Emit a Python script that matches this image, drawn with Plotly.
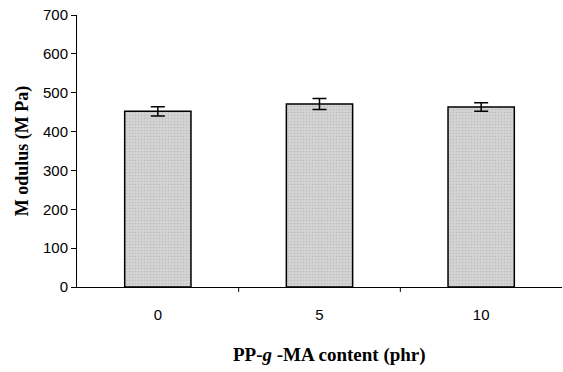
import plotly.graph_objects as go

categories = ["0", "5", "10"]
modulus = [452, 471, 463]
errors = [12, 14, 11]
y_ticks = [0, 100, 200, 300, 400, 500, 600, 700]

fig = go.Figure()
fig.add_trace(go.Bar(
    x=categories, y=modulus,
    width=0.41,
    marker=dict(color="#cdcdcd", line=dict(color="black", width=1.5),
                pattern=dict(shape=".", size=3, solidity=0.25, fgcolor="#a8a8a8", bgcolor="#d4d4d4")),
    error_y=dict(type="data", array=errors, visible=True, color="black", thickness=1.5, width=7),
))

fig.update_layout(
    width=563, height=372,
    margin=dict(l=77, r=1, t=15, b=85),
    paper_bgcolor="white", plot_bgcolor="white",
    showlegend=False,
    font=dict(family="Liberation Sans, Arial", size=15, color="black"),
)
fig.update_xaxes(
    type="category",
    showline=True, linecolor="black", linewidth=1,
    ticks="outside", ticklen=14, tickcolor="rgba(0,0,0,0)",
    showgrid=False,
    tickfont=dict(size=15),
)
fig.update_yaxes(
    range=[0, 700], tickvals=y_ticks,
    showline=True, linecolor="black", linewidth=1,
    ticks="outside", ticklen=5, tickcolor="black",
    showgrid=False, zeroline=False,
    tickfont=dict(size=15),
)
# category-boundary ticks on the x axis (between categories)
for b in [0.5, 1.5]:
    fig.add_shape(type="line", xref="x", yref="paper", x0=b, x1=b, y0=0, y1=-0.018,
                  line=dict(color="black", width=1))

serif = "Liberation Serif, Times New Roman"
fig.add_annotation(text="<b>PP-<i>g</i> -MA content (phr)</b>", xref="paper", yref="paper",
                   x=0.52, y=-0.25, xanchor="center", yanchor="middle", showarrow=False,
                   font=dict(family=serif, size=19))
fig.add_annotation(text="<b>M odulus (M Pa)</b>", xref="paper", yref="paper",
                   x=-0.113, y=0.5, xanchor="center", yanchor="middle", showarrow=False,
                   textangle=-90, font=dict(family=serif, size=18))

fig.write_html("out.html")
